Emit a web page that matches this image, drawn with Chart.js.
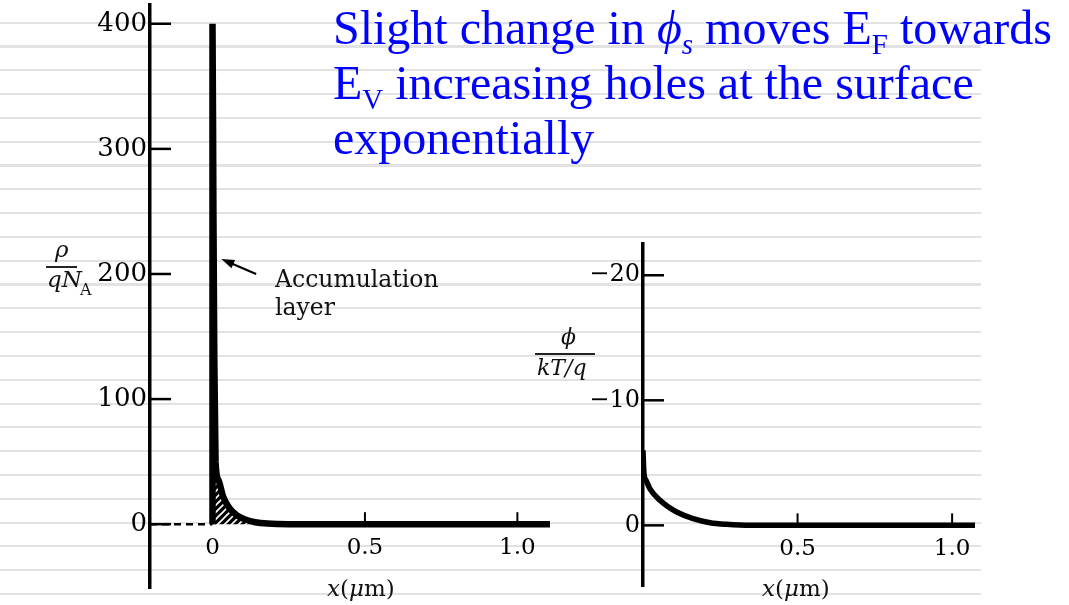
<!DOCTYPE html>
<html>
<head>
<meta charset="utf-8">
<script src="https://cdn.jsdelivr.net/npm/chart.js@4.4.0/dist/chart.umd.min.js"></script>
<style>
  body { margin:0; width:1069px; height:605px; background:#fff; position:relative; overflow:hidden; }
  #lines { position:absolute; left:0; top:0; width:981px; height:605px;
    background: repeating-linear-gradient(to bottom, transparent 0px, transparent 21.7px, #e2e2e2 21.7px, #e2e2e2 23.8px); }
  canvas { position:absolute; top:0; }
  #c1 { left:0; }
  #c2 { left:560px; }
  .t { position:absolute; font-family:'DejaVu Serif'; color:#111; white-space:nowrap; }
  .bar { position:absolute; background:#222; }
  #note { position:absolute; left:333px; top:0px; font-family:'Liberation Serif'; font-size:48px;
    line-height:55px; color:#0000ff; white-space:nowrap; }
  #note sub { font-size:29px; vertical-align:-10px; line-height:0; }
</style>
</head>
<body>
<div id="lines"></div>
<canvas id="c1" width="600" height="605"></canvas>
<canvas id="c2" width="509" height="605"></canvas>

<div id="note">Slight change in <i>ϕ<sub>s</sub></i> moves E<sub>F</sub> towards<br>E<sub>V</sub> increasing holes at the surface<br>exponentially</div>

<div class="t" style="left:55px;top:238px;font-size:23px;line-height:23px;font-style:italic">ρ</div>
<div class="bar" style="left:46px;top:266px;width:31px;height:1.5px"></div>
<div class="t" style="left:47px;top:268px;font-size:23px;line-height:23px;font-style:italic">qN</div>
<div class="t" style="left:80px;top:282px;font-size:16px;line-height:16px">A</div>

<div class="t" style="left:561px;top:326px;font-size:22px;line-height:22px;font-style:italic">ϕ</div>
<div class="bar" style="left:535px;top:353px;width:60px;height:2px"></div>
<div class="t" style="left:537px;top:357px;font-size:22px;line-height:22px;font-style:italic">kT/q</div>

<div class="t" style="left:275px;top:265px;font-size:23.5px;line-height:28px">Accumulation<br>layer</div>

<div class="t" style="left:327px;top:577px;font-size:23px;line-height:23px"><i>x</i>(<i>μ</i>m)</div>
<div class="t" style="left:762px;top:577px;font-size:23px;line-height:23px"><i>x</i>(<i>μ</i>m)</div>

<script>
// charge density rho/qNA vs depth (um)
const rhoX = [0, 0, 0.003, 0.006, 0.01, 0.02, 0.035, 0.055, 0.08, 0.11, 0.14, 0.18, 0.25, 1.107];
const rhoY = [0, 400, 250, 130, 50, 35, 22, 13, 7, 3.5, 1.6, 0.5, 0, 0];
const rhoTicks = [0, 100, 200, 300, 400];
const xTicksLeft = [0, 0.5, 1.0];

// potential phi/(kT/q) vs depth (um)
const phiX = [0, 0.003, 0.01, 0.023, 0.055, 0.08, 0.109, 0.162, 0.217, 0.27, 0.35, 1.074];
const phiY = [-6.0, -4.2, -3.6, -2.9, -2.0, -1.5, -1.07, -0.53, -0.21, -0.08, 0, 0];
const phiTicks = [-20, -10, 0];
const xTicksRight = [0.5, 1.0];

// dashed part of the left baseline (x < 0)
const dashX = [-0.205, 0];
const dashY = [0, 0];

const pts = (xs, ys) => xs.map((x, i) => ({x: x, y: ys[i]}));

function hatch() {
  const c = document.createElement('canvas');
  c.width = 7; c.height = 7;
  const g = c.getContext('2d');
  g.fillStyle = '#000';
  g.fillRect(0, 0, 7, 7);
  g.strokeStyle = '#fff';
  g.lineWidth = 1.6;
  g.beginPath();
  g.moveTo(0, 7); g.lineTo(7, 0);
  g.moveTo(-3.5, 3.5); g.lineTo(3.5, -3.5);
  g.moveTo(3.5, 10.5); g.lineTo(10.5, 3.5);
  g.stroke();
  return g.createPattern(c, 'repeat');
}

const axisMarks = {
  id: 'axisMarks',
  afterDatasetsDraw(chart, args, opts) {
    const {ctx, chartArea, scales: {x, y}} = chart;
    ctx.save();
    ctx.strokeStyle = '#000';
    ctx.lineWidth = 2.5;
    opts.yTicks.forEach(v => {
      const py = y.getPixelForValue(v);
      ctx.beginPath();
      ctx.moveTo(chartArea.left, py);
      ctx.lineTo(chartArea.left + 21, py);
      ctx.stroke();
    });
    ctx.lineWidth = 2;
    const y0 = y.getPixelForValue(0);
    opts.xTicks.forEach(v => {
      const px = x.getPixelForValue(v);
      ctx.beginPath();
      ctx.moveTo(px, y0);
      ctx.lineTo(px, y0 - 12);
      ctx.stroke();
    });
    if (opts.arrow) {
      const [a, b] = opts.arrow;
      const x1 = x.getPixelForValue(a[0]), y1 = y.getPixelForValue(a[1]);
      const x2 = x.getPixelForValue(b[0]), y2 = y.getPixelForValue(b[1]);
      const ang = Math.atan2(y2 - y1, x2 - x1);
      ctx.lineWidth = 2.2;
      ctx.beginPath();
      ctx.moveTo(x1, y1);
      ctx.lineTo(x2 - 8 * Math.cos(ang), y2 - 8 * Math.sin(ang));
      ctx.stroke();
      ctx.fillStyle = '#000';
      ctx.beginPath();
      ctx.moveTo(x2, y2);
      ctx.lineTo(x2 - 13 * Math.cos(ang) + 4.5 * Math.sin(ang), y2 - 13 * Math.sin(ang) - 4.5 * Math.cos(ang));
      ctx.lineTo(x2 - 13 * Math.cos(ang) - 4.5 * Math.sin(ang), y2 - 13 * Math.sin(ang) + 4.5 * Math.cos(ang));
      ctx.closePath();
      ctx.fill();
    }
    ctx.restore();
  }
};

const tickFont = size => ({family: 'DejaVu Serif', size: size});

// keep the chart area exactly where the padding puts it
const fixY = w => s => { s.width = w; s.paddingTop = 0; s.paddingBottom = 0; };

new Chart(document.getElementById('c1'), {
  type: 'line',
  data: {
    datasets: [{
      data: pts(rhoX, rhoY),
      borderColor: '#000',
      borderWidth: 6.5,
      backgroundColor: hatch(),
      fill: 'origin',
      pointRadius: 0,
      cubicInterpolationMode: 'monotone'
    }, {
      data: pts(dashX, dashY),
      borderColor: '#000',
      borderWidth: 2.5,
      borderDash: [7, 5],
      pointRadius: 0,
      fill: false
    }]
  },
  options: {
    responsive: false,
    animation: false,
    layout: {padding: {top: 5, right: 50, bottom: 17, left: 0}},
    plugins: {
      legend: {display: false},
      tooltip: {enabled: false},
      axisMarks: {yTicks: rhoTicks, xTicks: [0.5, 1.0], arrow: [[0.143, 200], [0.029, 212]]}
    },
    scales: {
      x: {
        type: 'linear', min: -0.205, max: 1.107, position: {y: 0},
        afterBuildTicks: s => { s.ticks = xTicksLeft.map(v => ({value: v})); },
        grid: {display: false, drawTicks: false},
        border: {display: false},
        ticks: {color: '#000', font: tickFont(23), padding: 10, maxRotation: 0, autoSkip: false,
          callback: v => v === 0 ? '0' : v.toFixed(1)}
      },
      y: {
        type: 'linear', min: -51, max: 415,
        afterFit: fixY(150),
        afterBuildTicks: s => { s.ticks = rhoTicks.map(v => ({value: v})); },
        grid: {display: false, drawTicks: false},
        border: {display: true, color: '#000', width: 3.5},
        ticks: {color: '#000', font: tickFont(26), padding: 3}
      }
    }
  },
  plugins: [axisMarks]
});

new Chart(document.getElementById('c2'), {
  type: 'line',
  data: {
    datasets: [{
      data: pts(phiX, phiY),
      borderColor: '#000',
      borderWidth: 5.5,
      pointRadius: 0,
      fill: false,
      cubicInterpolationMode: 'monotone'
    }]
  },
  options: {
    responsive: false,
    animation: false,
    layout: {padding: {top: 244, right: 94, bottom: 19, left: 0}},
    plugins: {
      legend: {display: false},
      tooltip: {enabled: false},
      axisMarks: {yTicks: phiTicks, xTicks: xTicksRight}
    },
    scales: {
      x: {
        type: 'linear', min: 0, max: 1.074, position: {y: 0},
        afterBuildTicks: s => { s.ticks = xTicksRight.map(v => ({value: v})); },
        grid: {display: false, drawTicks: false},
        border: {display: false},
        ticks: {color: '#000', font: tickFont(23), padding: 10, maxRotation: 0, autoSkip: false,
          callback: v => v.toFixed(1)}
      },
      y: {
        type: 'linear', min: -22.5, max: 4.85, reverse: true,
        afterFit: fixY(83),
        afterBuildTicks: s => { s.ticks = phiTicks.map(v => ({value: v})); },
        grid: {display: false, drawTicks: false},
        border: {display: true, color: '#000', width: 3.5},
        ticks: {color: '#000', font: tickFont(24), padding: 3,
          callback: v => v < 0 ? '\u2212' + (-v) : '0'}
      }
    }
  },
  plugins: [axisMarks]
});
</script>
</body>
</html>
